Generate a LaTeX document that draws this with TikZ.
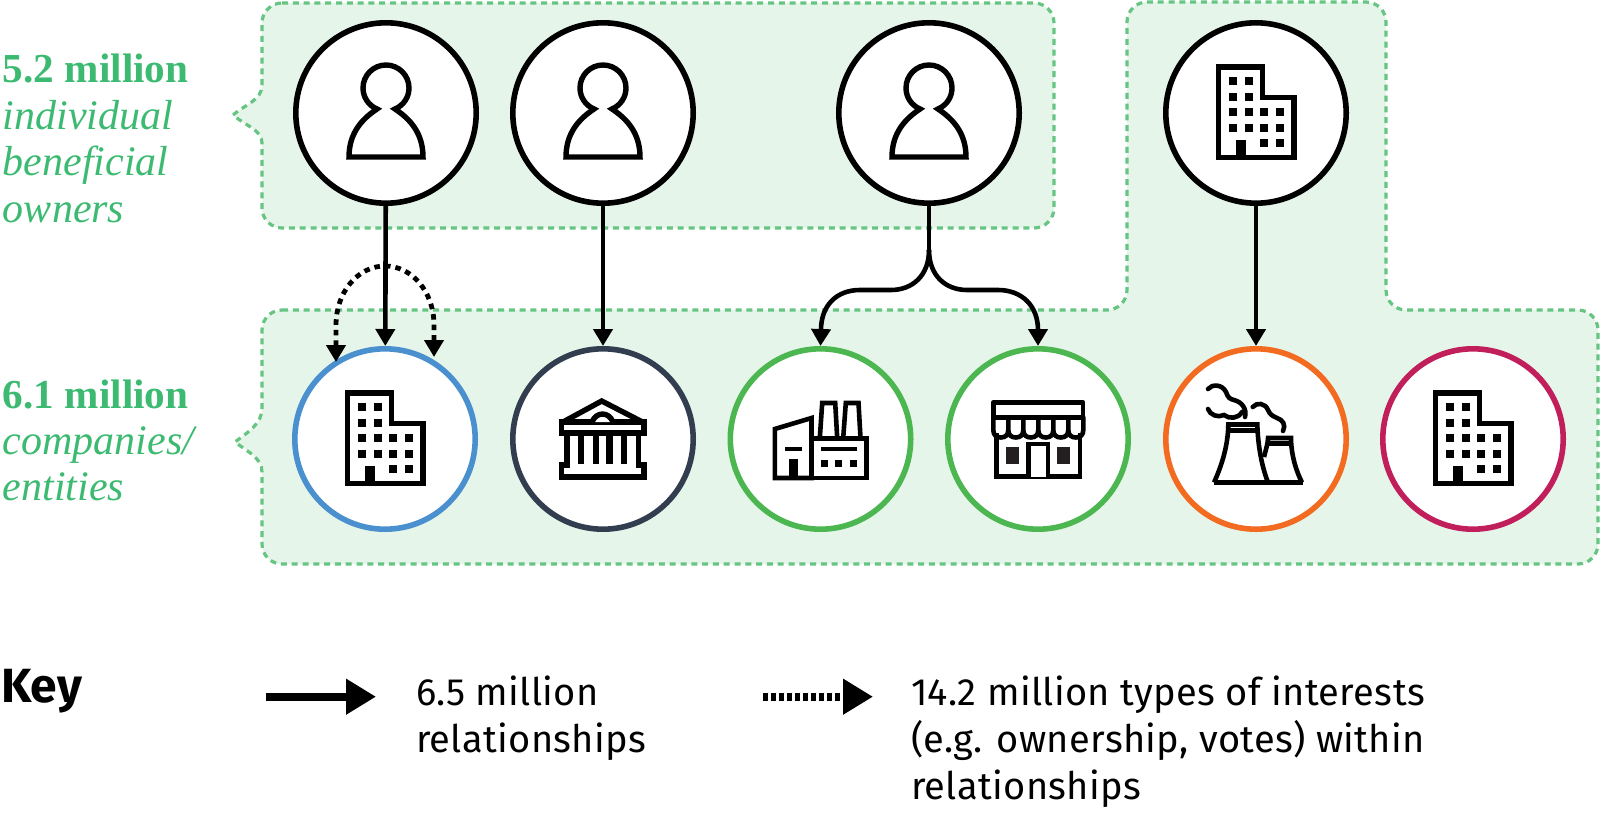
\documentclass[tikz,border=0pt]{standalone}
\usepackage{fontspec}
\setmainfont{Liberation Serif}
\newfontfamily\keyfont[LetterSpace=1]{Fira Sans}
\newfontfamily\keybold{Fira Sans Bold}
\usetikzlibrary{arrows.meta}
\definecolor{bgreen}{HTML}{E6F5E9}
\definecolor{dgreen}{HTML}{66C582}
\definecolor{tgreen}{HTML}{3DBA72}
\definecolor{cblue}{HTML}{4A90CF}
\definecolor{cnavy}{HTML}{323E50}
\definecolor{cgreen}{HTML}{4CB750}
\definecolor{corange}{HTML}{F26B21}
\definecolor{ccrim}{HTML}{C01F5C}
\definecolor{wdark}{HTML}{231F20}
\tikzset{
  x=0.5pt,y=-0.5pt,
  region/.style={fill=bgreen,draw=dgreen,line width=1.6pt,dash pattern=on 3pt off 2.4pt},
  circ/.style={circle,draw=#1,fill=white,line width=2.8pt,minimum size=90.2pt,inner sep=0pt,outer sep=1.4pt},
  ico/.style={line width=2.7pt,draw=black,miter limit=8},
  rel/.style={line width=2.3pt,draw=black,-{Triangle[length=8.5pt,width=9.5pt]}},
  interest/.style={line width=2.4pt,draw=black,dash pattern=on 2.8pt off 2.5pt,{Triangle[length=8.5pt,width=9.5pt]}-{Triangle[length=8.5pt,width=9.5pt]}},
  lbl/.style={anchor=base west,inner sep=0pt,outer sep=0pt,text=tgreen},
  lblb/.style={lbl,font=\fontsize{20.6}{21}\selectfont\bfseries},
  lbli/.style={lbl,font=\fontsize{21}{22}\selectfont\itshape},
  keytxt/.style={anchor=base west,inner sep=0pt,outer sep=0pt,font=\fontsize{19}{20}\keyfont},
  person/.pic={
    \draw[ico] (-37,44) .. controls (-37,20) and (-24,6) .. (-9,-4)
      .. controls (-17.5,-7.6) and (-23,-15.8) .. (-23,-25)
      .. controls (-23,-37.7) and (-12.7,-48) .. (0,-48)
      .. controls (12.7,-48) and (23,-37.7) .. (23,-25)
      .. controls (23,-15.8) and (17.5,-7.6) .. (9,-4)
      .. controls (24,6) and (37,20) .. (37,44) -- cycle;
  },
  building/.pic={
    \draw[ico] (-37.7,-46) -- (6.7,-46) -- (6.7,-15.5) -- (38,-15.5) -- (38,44.7) -- (-37.7,44.7) -- cycle;
    \fill (-20.3,26.7) rectangle (-10,44.7);
    \foreach \wx/\wy in {-23.3/-32.3,-7.3/-32.3,-23.3/-16.3,-7.3/-16.3,
      -23.3/-0.7,-7.3/-0.7,8/-0.7,23.7/-0.7,
      -23.3/15,-7.3/15,8/15,23.7/15,8/30.3,23.7/30.3}
      \fill (\wx-4,\wy-4) rectangle (\wx+4,\wy+4);
  },
  bank/.pic={
    \draw[ico] (-40,-17) -- (-1.3,-38) -- (39.5,-17);
    \draw[ico] (-41.5,-17) rectangle (41,-6);
    \draw[ico,fill=white] (-11,-17) .. controls (-9,-22) and (-5,-25) .. (-0.5,-25) .. controls (4,-25) and (8,-22) .. (10,-17);
    \fill (-24.7,-5) rectangle (-18.7,25);
    \fill (-10.3,-5) rectangle (-3.7,25);
    \fill (3,-5) rectangle (9.7,25);
    \fill (17.7,-5) rectangle (24.3,25);
    \draw[ico] (-36,-6) -- (-36,26) -- (-41.5,26) -- (-41.5,38) -- (41,38) -- (41,26) -- (35.5,26) -- (35.5,-6);
  },
  factory/.pic={
    \draw[ico,line width=2.3pt] (-45.7,39) -- (-45.7,-10) -- (-9,-21) -- (-9,39) -- cycle;
    \draw[ico,line width=2.3pt] (-9,-0.3) -- (45.7,-0.3) -- (45.7,39) -- (-9,39);
    \draw[ico,line width=2.3pt] (-0.7,-1) -- (1.7,-36) -- (14.7,-36) -- (16.7,-1);
    \draw[ico,line width=2.3pt] (22.7,-1) -- (25.3,-36) -- (38,-36) -- (40,-1);
    \fill (-36,8) rectangle (-18.7,11.7);
    \fill (-32,20.3) rectangle (-23,39);
    \fill (0.7,8) rectangle (36,11.7);
    \fill (0.7,21) rectangle (7.3,28.3);
    \fill (14.7,21) rectangle (21.3,28.3);
    \fill (29,21) rectangle (36,28.3);
  },
  shop/.pic={
    \draw[ico,line width=2.3pt] (-41.7,-6) -- (-41.7,37.7) -- (42,37.7) -- (42,-6);
    \draw[ico,line width=2.3pt,fill=white] (-9.7,37.7) -- (-9.7,5) -- (10,5) -- (10,37.7);
    \draw[ico,line width=2.3pt,line join=round] (-44.7,-21.7) -- (-44.7,-36.7) -- (45,-36.7) -- (45,-21.7) -- cycle;
    \draw[ico,line width=2.3pt,line join=round] (-44.7,-21.7) -- (-44.7,-9)
      \foreach \sx in {-44.7,-29.7,-14.7,0.3,15.3,30.3}{
        -- (\sx,-9) .. controls (\sx,-4) and (\sx+3,-1.5) .. (\sx+7.5,-1.5)
        .. controls (\sx+12,-1.5) and (\sx+15,-4) .. (\sx+15,-9)
        -- (\sx+15,-21.7) -- (\sx+15,-9) };
    \fill[wdark] (-31.7,7.7) rectangle (-19.3,25.3);
    \fill[wdark] (19.3,7.7) rectangle (31.7,25.3);
  },
  plant/.pic={
    \draw[ico,line width=2.3pt] (-42,43.5) -- (47,43.5);
    \draw[ico,line width=2.3pt] (-42,43.5) .. controls (-35,28) and (-28,8) .. (-27.7,-14.5) -- (1.3,-14.5) .. controls (2,8) and (6,28) .. (12,43.5);
    \draw[ico,line width=2.3pt] (-26.5,-8.5) -- (0.5,-8.5);
    \draw[ico,line width=2.3pt] (8,18) .. controls (10,10) and (12,4) .. (12,-1) -- (35,-1) .. controls (35,15) and (40,32) .. (46,43.5);
    \draw[ico,line width=2.3pt] (12,4.5) -- (35,4.5);
    \draw[line width=2.3pt,line cap=round] (-48,-50) .. controls (-44,-55) and (-34,-55) .. (-30,-47)
      .. controls (-28,-41) and (-26,-40) .. (-22,-39) .. controls (-14,-37) and (-9,-30) .. (-11,-22);
    \draw[line width=2.3pt,line cap=round] (-48,-30) .. controls (-46,-24) and (-38,-21) .. (-32,-24)
      .. controls (-27,-20) and (-18,-20) .. (-14,-27);
    \draw[line width=2.3pt,line cap=round] (-3.3,-32) .. controls (1,-37) and (9,-36) .. (12,-29)
      .. controls (14,-24) and (17,-23) .. (21,-21) .. controls (27,-19) and (30,-14) .. (27,-8);
  }
}
\begin{document}
\begin{tikzpicture}
\useasboundingbox (0,0) rectangle (1600,813);
% regions
\path[region] (282,3) -- (1034,3) .. controls (1045,3) and (1054,12) .. (1054,23) -- (1054,208)
  .. controls (1054,219) and (1045,228) .. (1034,228) -- (282,228)
  .. controls (271,228) and (262,219) .. (262,208) -- (262,143)
  .. controls (262,130) and (246,126) .. (233,115)
  .. controls (246,104) and (262,100) .. (262,85) -- (262,23)
  .. controls (262,12) and (271,3) .. (282,3) -- cycle;
\path[region] (282,310) -- (1107,310) .. controls (1118,310) and (1127,301) .. (1127,290)
  -- (1127,22) .. controls (1127,11) and (1136,2) .. (1147,2) -- (1366,2)
  .. controls (1377,2) and (1386,11) .. (1386,22) -- (1386,290)
  .. controls (1386,301) and (1395,310) .. (1406,310) -- (1578,310)
  .. controls (1589,310) and (1598,319) .. (1598,330) -- (1598,544)
  .. controls (1598,555) and (1589,564) .. (1578,564) -- (282,564)
  .. controls (271,564) and (262,555) .. (262,544) -- (262,472)
  .. controls (262,458) and (248,452) .. (235,442)
  .. controls (248,432) and (262,424) .. (262,408) -- (262,330)
  .. controls (262,319) and (271,310) .. (282,310) -- cycle;
% circles
\node[circ=black] (p1) at (386,113) {};
\node[circ=black] (p2) at (603,113) {};
\node[circ=black] (p3) at (929,113) {};
\node[circ=black] (b0) at (1256,113) {};
\node[circ=cblue] (c1) at (385,439) {};
\node[circ=cnavy] (c2) at (603,439) {};
\node[circ=cgreen] (c3) at (820.5,439) {};
\node[circ=cgreen] (c4) at (1038,439) {};
\node[circ=corange] (c5) at (1256,439) {};
\node[circ=ccrim] (c6) at (1473,439) {};
% icons
\pic at (p1) {person};
\pic at (p2) {person};
\pic at (p3) {person};
\pic at (b0) {building};
\pic at (c1) {building};
\pic at (c2) {bank};
\pic at (c3) {factory};
\pic at (c4) {shop};
\pic at (c5) {plant};
\pic at (c6) {building};
% connectors
\coordinate (il) at (336,362);
\coordinate (ir) at (434,357);
\coordinate (fork) at (929,250);
\draw[interest] (il) -- (336,325) .. controls (336,292) and (358,266) .. (385,266)
  .. controls (412,266) and (434,292) .. (434,325) -- (ir);
\draw[rel] (p1) -- (c1);
\draw[rel] (p2) -- (c2);
\draw[rel] (b0) -- (c5);
\draw[line width=2.3pt] (p3) -- (fork);
\draw[rel] (fork) .. controls (929,276) and (912,290) .. (891,290) -- (860,290)
  .. controls (836,290) and (821,306) .. (821,330) -- (c3.north);
\draw[rel] (fork) .. controls (929,276) and (946,290) .. (967,290) -- (998,290)
  .. controls (1022,290) and (1038,306) .. (1038,330) -- (c4.north);
% side labels
\node[lblb] (t1) at (3,83) {5.2 million};
\node[lbli] (t2) at (3,129) {individual};
\node[lbli] (t3) at (3,175) {beneficial};
\node[lbli] (t4) at (3,222) {owners};
\node[lblb] (t5) at (3,408) {6.1 million};
\node[lbli] (t6) at (3,454) {companies/};
\node[lbli] (t7) at (3,500) {entities};
% key
\node[anchor=base west,inner sep=0pt,font=\fontsize{24}{25}\keybold] (k0) at (1,702) {Key};
\coordinate (a1) at (266,696.7);
\coordinate (a2) at (376,696.7);
\coordinate (a3) at (763,696.7);
\coordinate (a4) at (873,696.7);
\draw[line width=4pt,-{Triangle[length=15pt,width=17pt]}] (a1) -- (a2);
\draw[line width=4pt,dash pattern=on 2.4pt off 1.6pt,-{Triangle[length=15pt,width=17pt]}] (a3) -- (a4);
\node[keytxt] (k1) at (416,705) {6.5 million};
\node[keytxt] (k2) at (416,752) {relationships};
\node[keytxt] (k3) at (911,705) {14.2 million types of interests};
\node[keytxt] (k4) at (911,752) {(e.g. ownership, votes) within};
\node[keytxt] (k5) at (911,799) {relationships};
\end{tikzpicture}
\end{document}
